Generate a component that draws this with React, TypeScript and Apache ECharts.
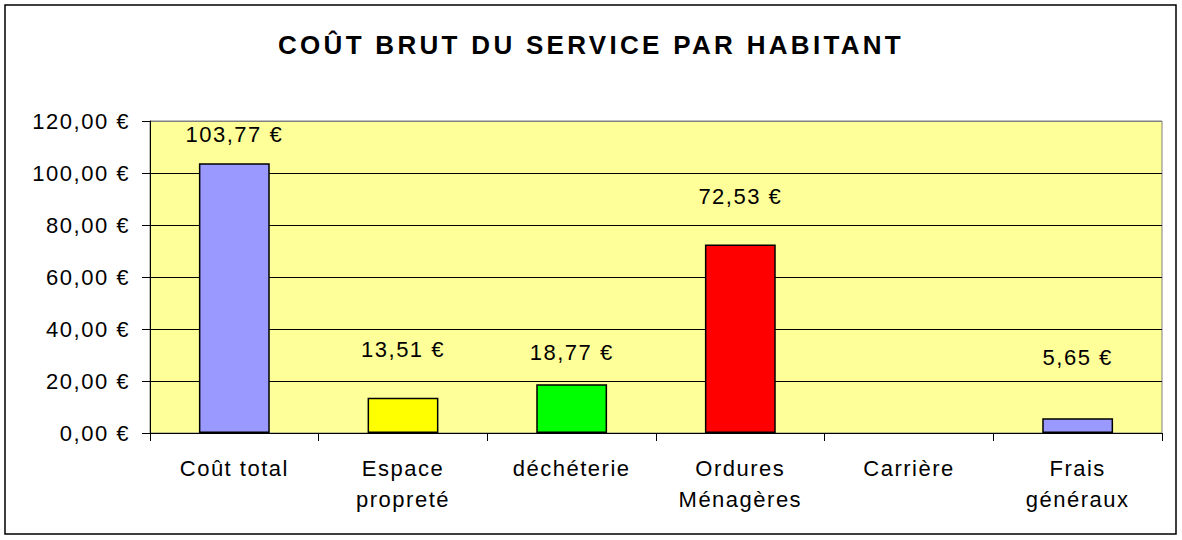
import React, { useEffect, useRef } from "react";
import * as echarts from "echarts";

const titleText = "COÛT BRUT DU SERVICE PAR HABITANT";
const categories = [
  "Coût total",
  "Espace\npropreté",
  "déchéterie",
  "Ordures\nMénagères",
  "Carrière",
  "Frais\ngénéraux",
];
const values: (number | null)[] = [103.77, 13.51, 18.77, 72.53, null, 5.65];
const barColors = ["#9999FF", "#FFFF00", "#00FF00", "#FF0000", "#9999FF", "#9999FF"];
const labelDistances = [18, 37, 21, 37, 20, 50];
const yTicks = [0, 20, 40, 60, 80, 100, 120];
const yTickLabels = ["0,00 €", "20,00 €", "40,00 €", "60,00 €", "80,00 €", "100,00 €", "120,00 €"];

const FONT = "'Liberation Sans', Arial, sans-serif";

export default function App() {
  const ref = useRef<HTMLDivElement>(null);

  useEffect(() => {
    if (!ref.current) return;
    const chart = echarts.init(ref.current, undefined, { renderer: "svg" });
    chart.setOption({
      animation: false,
      backgroundColor: "#FFFFFF",
      title: {
        text: titleText,
        left: "center",
        top: 32,
        padding: 0,
        textStyle: {
          fontFamily: FONT,
          fontWeight: "bold",
          fontSize: 26,
          color: "#000000",
        },
      },
      graphic: [
        {
          type: "rect",
          shape: { x: 5, y: 5, width: 1171, height: 529 },
          style: { fill: "none", stroke: "#000000", lineWidth: 1.5 },
          silent: true,
          z: 100,
        },
      ],
      grid: {
        left: 150,
        right: 20,
        top: 121,
        bottom: 107,
        show: true,
        backgroundColor: "#FFFF99",
        borderColor: "#808080",
        borderWidth: 1,
        containLabel: false,
        outerBoundsMode: "none",
      },
      xAxis: {
        type: "category",
        data: categories,
        boundaryGap: true,
        axisLine: { show: true, lineStyle: { color: "#000000", width: 1 } },
        axisTick: { show: true, length: 8, alignWithLabel: false, lineStyle: { color: "#000000" } },
        axisLabel: {
          fontFamily: FONT,
          fontSize: 22,
          color: "#000000",
          margin: 20,
          lineHeight: 31,
          interval: 0,
        },
        splitLine: { show: false },
      },
      yAxis: {
        type: "value",
        min: 0,
        max: 120,
        interval: 20,
        axisLine: { show: true, lineStyle: { color: "#000000", width: 1 } },
        axisTick: { show: true, length: 8, lineStyle: { color: "#000000" } },
        axisLabel: {
          fontFamily: FONT,
          fontSize: 22,
          color: "#000000",
          margin: 20,
          formatter: (v: number) => {
            const i = yTicks.indexOf(v);
            return i >= 0 ? yTickLabels[i] : "";
          },
        },
        splitLine: {
          show: true,
          lineStyle: {
            color: ["#000000", "#000000", "#000000", "#000000", "#000000", "#000000", "#808080"],
            width: 1,
          },
        },
      },
      series: [
        {
          type: "bar",
          barWidth: "42%",
          data: values.map((v, i) => ({
            value: v,
            itemStyle: { color: barColors[i] },
            label: { distance: labelDistances[i] },
          })),
          itemStyle: { borderColor: "#000000", borderWidth: 1.5 },
          label: {
            show: true,
            position: "top",
            fontFamily: FONT,
            fontSize: 22,
            color: "#000000",
            formatter: (p: any) =>
              p.value == null ? "" : Number(p.value).toFixed(2).replace(".", ",") + " €",
          },
        },
      ],
    });
    return () => chart.dispose();
  }, []);

  return (
    <>
      <style>{`#chart-root text[style*="bold"] { letter-spacing: 3.3px; }`}</style>
      <div
        id="chart-root"
        ref={ref}
        style={{
          position: "absolute",
          left: 0,
          top: 0,
          width: 1182,
          height: 540,
          letterSpacing: "1.5px",
        }}
      />
    </>
  );
}
